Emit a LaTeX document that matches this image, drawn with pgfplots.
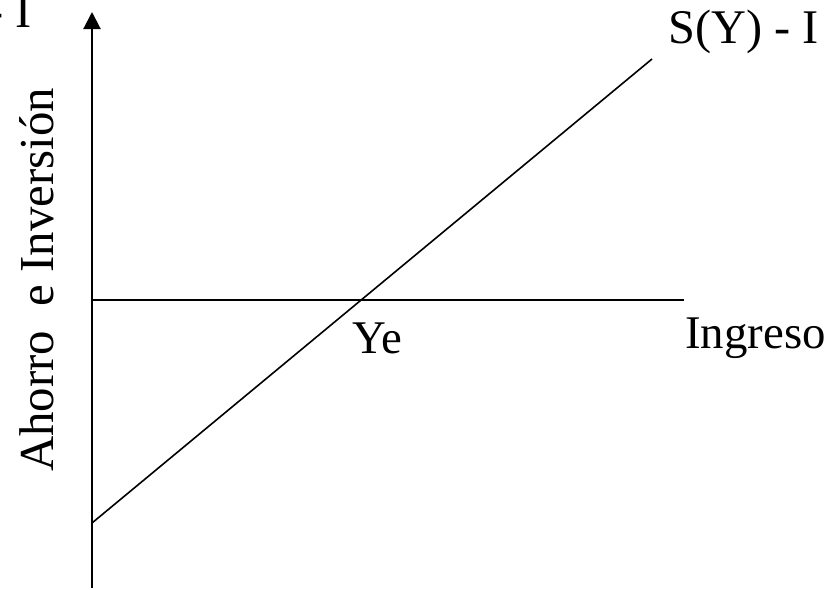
\documentclass[border=0pt]{standalone}
\usepackage{pgfplots}
\pgfplotsset{compat=1.18}
\usepackage{fontspec}
\setmainfont{Liberation Serif}
\usetikzlibrary{arrows.meta}
\begin{document}
\begin{tikzpicture}
\begin{axis}[
  at={(0,0)}, anchor=south west,
  scale only axis, width=833bp, height=590bp,
  xmin=0, xmax=833, ymin=0, ymax=590, y dir=reverse,
  hide axis, clip=false,
]
% vertical axis with arrow
\addplot[black, line width=2.1bp, -{Triangle[width=17bp,length=17bp]}] coordinates {(92,588) (92,12)};
% horizontal line
\addplot[black, line width=1.8bp] coordinates {(92,300) (684,300)};
% S(Y) - I line
\addplot[black, line width=1.6bp] coordinates {(92,523) (652,59)};
\node[anchor=base west, inner sep=0pt, font=\fontsize{48.5}{52}\selectfont] at (axis cs:668,43) {S(Y) - I};
\node[anchor=base east, inner sep=0pt, font=\fontsize{48.5}{52}\selectfont] at (axis cs:32,27) {S - I};
\node[anchor=base west, inner sep=0pt, font=\fontsize{47}{50}\selectfont] at (axis cs:352,353) {Ye};
\node[anchor=base west, inner sep=0pt, font=\fontsize{47}{50}\selectfont] at (axis cs:685,348) {Ingreso};
\node[anchor=base west, inner sep=0pt, rotate=90, font=\fontsize{49}{52}\selectfont] at (axis cs:53,472) {Ahorro\ \ e Inversión};
\end{axis}
\pgfresetboundingbox
\useasboundingbox (0,0) rectangle (833bp,590bp);
\end{tikzpicture}
\end{document}
